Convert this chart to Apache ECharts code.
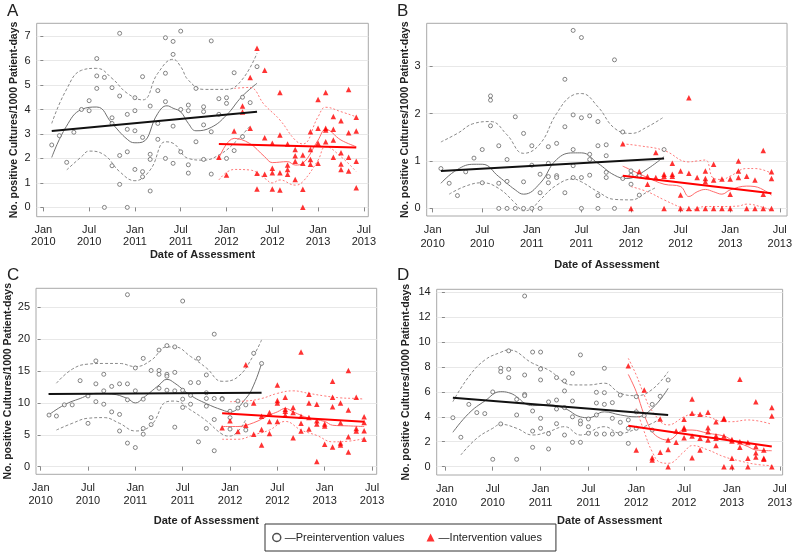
<!DOCTYPE html>
<html><head><meta charset="utf-8">
<script src="https://cdn.jsdelivr.net/npm/echarts@6/dist/echarts.min.js"></script>
<style>html,body{margin:0;padding:0;background:#fff}#c{width:795px;height:554px}</style>
</head><body><div id="c"></div>
<script>
// x values are months since Jan 2010
const xTicks = [0, 6, 12, 18, 24, 30, 36, 42];
const xTickLabels = ['Jan\n2010','Jul\n2010','Jan\n2011','Jul\n2011','Jan\n2012','Jul\n2012','Jan\n2013','Jul\n2013'];
const yTicksA = [0,1,2,3,4,5,6,7];
const yTicksB = [0,1,2,3];
const yTicksC = [0,5,10,15,20,25];
const yTicksD = [0,2,4,6,8,10,12,14];

// ---------- Panel A ----------
const A_pre = [[1.1,2.55],[2.1,2.93],[3.06,1.84],[4,3.07],[5,4.0],[6,4.36],[6,3.95],[7,6.08],[7,5.37],[7,4.86],[8,5.31],[8,0],
[9,4.89],[9,3.66],[9,3.43],[9,1.7],[10,7.11],[10,4.55],[10,2.12],[10,0.94],[11,3.8],[11,3.19],[11,2.27],[11,0],
[12,4.48],[12,3.95],[12,3.13],[12,1.55],[13,5.34],[13,2.86],[13,1.46],[13,1.25],[14,4.14],[14,2.17],[14,1.96],[14,0.67],
[15,4.77],[15,3.43],[15,2.78],[16,6.93],[16,5.48],[16,4.32],[16,2.0],[17,6.78],[17,6.25],[17,3.32],[17,1.8],
[18,7.2],[18,4.0],[18,2.27],[19,4.18],[19,3.95],[19,1.74],[19,1.4],[20,4.86],[20,2.68],[21,4.11],[21,3.91],[21,3.37],[21,1.96],
[22,6.8],[22,3.09],[22,1.36],[23,4.44],[23,3.8],[24,4.48],[24,4.25],[24,2.0],[25,5.5],[25,2.32],[26.1,4.5],[26.1,2.89],[27.1,4.28],[28,5.75]];
const A_int = [[23,2.05],[24,1.32],[25,3.12],[26.1,4.14],[26.1,3.9],[27.1,5.31],[27.1,3.23],[28,6.5],[28,1.39],[28,0.75],
[29,5.6],[29,2.85],[29,1.35],[30,2.62],[30,1.6],[30,1.42],[30,0.75],[31,4.69],[31,2.96],[31,1.42],[31,0.71],
[32,2.59],[32,1.73],[32,1.55],[32,1.35],[33,2.37],[33,2.11],[33,1.89],[33,1.14],[34,2.14],[34,1.8],[34,0.74],[34,0.01],
[35,3.09],[35,2.37],[35,1.96],[35,1.76],[36,4.41],[36,3.23],[36,2.62],[36,1.8],[37,4.69],[37,3.23],[37,3.16],[37,2.68],
[38,3.71],[38,3.19],[38,2.75],[38,2.05],[39,3.54],[39,2.23],[39,1.77],[39,1.55],[40,4.82],[40,3.05],[40,2.05],[40,1.49],
[41,3.68],[41,3.12],[41,1.89],[41,0.8]];
const A_preSmooth = [[1.1,2.04],[3,3.3],[5,4.0],[7,4.1],[9,3.43],[11,2.78],[12,2.64],[13,2.67],[15,3.84],[16.2,4.15],[17,4.05],[18,3.9],[19,3.43],[20,3.13],[22,3.27],[24,3.77],[26,4.52],[28,5.07]];
const A_preUpper = [[1.1,3.43],[3,4.8],[5,5.6],[7,5.68],[9,5.27],[11,4.66],[13,4.39],[15,5.48],[17,6.05],[18,5.75],[19,5.2],[21,4.82],[24,4.82],[26,5.2],[28,6.3]];
const A_preLower = [[3.06,1.53],[5,2.07],[6,2.3],[8,2.14],[10,1.46],[12,1.09],[14,1.53],[16,2.68],[17,2.62],[19,2.0],[21,1.93],[23,2.14],[25,2.62],[27,3.3]];
const A_preFit = [[1.1,3.12],[28,3.91]];
const A_intSmooth = [[23,2.0],[25,2.82],[27,2.62],[29,2.07],[30,1.83],[32,1.87],[33,1.73],[34,1.8],[36,2.75],[37,3.19],[39,2.75],[41,2.48]];
const A_intUpper = [[25,4.86],[27,4.9],[29,4.18],[31,3.57],[33,2.75],[34,2.59],[36,3.7],[37,4.09],[39,3.91],[41,3.7]];
const A_intLower = [[23,1.12],[25,1.55],[27,1.53],[29,1.19],[30,1.0],[31,1.12],[33,0.91],[34,1.05],[36,1.93],[37,2.48],[39,2.07],[41,1.46]];
const A_intFit = [[23,2.59],[41,2.45]];

// ---------- Panel B ----------
const B_pre = [[1,0.84],[2,0.53],[3,0.27],[4,0.77],[5,1.06],[6,1.24],[6,0.54],[7,2.37],[7,2.28],[7,1.74],[8,1.32],[8,0.53],[8,0],
[9,1.03],[9,0.57],[9,0],[10,1.93],[10,0],[11,1.58],[11,0.56],[11,0],[12,1.32],[12,0.91],[12,0],[13,0.72],[13,0.33],[13,0],
[14,1.3],[14,0.95],[14,0.67],[14,0.54],[15,1.37],[15,0.69],[15,0.65],[16,2.72],[16,1.72],[16,0.33],
[17,3.75],[17,1.97],[17,1.24],[17,0.9],[17,0.65],[18,3.6],[18,1.91],[18,0.65],[18,0],[19,1.95],[19,1.14],[19,1.03],[19,0.7],
[20,1.83],[20,1.32],[20,0.27],[20,0],[21,1.34],[21,1.11],[21,0.76],[21,0.65],[22,3.13],[22,0],[23,1.61],[23,0.63],
[24,0.79],[24,0.7],[24,0.51],[25,0.69],[25,0.28],[28,1.24]];
const B_int = [[23,1.36],[24,0],[25,0.78],[26,0.67],[26,0.51],[27,1.18],[27,0.65],[28,0.72],[28,0.68],[28,0],
[29,0.95],[29,0.72],[29,0.68],[30,0.79],[30,0.28],[30,0],[31,2.33],[31,0.74],[31,0],[32,0.65],[32,0],
[33,0.79],[33,0.63],[33,0.56],[33,0],[34,0.93],[34,0.6],[34,0],[35,0.62],[35,0],[36,0.62],[36,0.3],[36,0],
[37,1.0],[37,0.79],[37,0.65],[38,0.68],[38,0],[39,0.6],[39,0],[40,1.22],[40,0.3],[40,0],[41,0.77],[41,0.63],[41,0]];
const B_preSmooth = [[1,0.53],[3,0.82],[5,0.93],[6,0.93],[8,0.67],[10,0.39],[11,0.3],[13,0.53],[15,1.03],[17,1.17],[18,1.17],[20,0.95],[22,0.7],[23.5,0.63],[25,0.72],[28,1.09]];
const B_preUpper = [[1,1.4],[3,1.58],[5,1.79],[7,1.83],[9,1.55],[11,1.16],[13,1.36],[15,2.0],[17,2.39],[18,2.42],[20,2.14],[22,1.69],[24,1.58],[26,1.72],[28,1.93]];
const B_preLower = [[2,0.3],[4,0.47],[6,0.54],[8,0.42],[10,0.11],[11,-0.05],[12,0.0],[13,0.18],[15,0.49],[17,0.62],[18,0.56],[20,0.35],[22,0.19],[24,0.18],[26,0.35],[27,0.44]];
const B_preFit = [[1,0.79],[28,1.05]];
const B_intSmooth = [[23,0.89],[24,0.81],[26,0.65],[28,0.51],[30,0.46],[31,0.25],[32,0.35],[33,0.4],[34,0.35],[35,0.3],[36,0.39],[38,0.47],[39,0.46],[41,0.28]];
const B_intUpper = [[23,1.36],[25,1.32],[28,1.22],[31,0.98],[32,1.0],[33,1.02],[34,0.63],[35,0.61],[36,0.68],[38,0.84],[39,0.84],[41,0.74]];
const B_intLower = [[24,0.46],[26,0.35],[28,0.18],[30,0.02],[31,-0.05],[33,0.04],[35,0.04],[37,0.05],[38,0.09],[40,0.02],[41,-0.04]];
const B_intFit = [[23,0.69],[41,0.32]];

// ---------- Panel C ----------
const C_pre = [[1.06,8.1],[2,7.95],[3,9.7],[4,9.7],[5,13.5],[6,11.1],[6,6.8],[7,16.6],[7,13.0],[7,10.2],[8,14.5],[8,11.9],[8,9.8],
[9,12.6],[9,8.6],[10,13.0],[10,8.2],[10,5.6],[11,27.0],[11,13.0],[11,10.5],[11,3.7],[12,15.5],[12,11.9],[12,3.0],
[13,17.0],[13,10.6],[13,6.0],[13,5.1],[14,15.1],[14,7.7],[14,6.6],[15,18.3],[15,15.1],[15,14.5],[15,12.3],
[16,19.0],[16,14.5],[16,14.2],[16,12.0],[17,18.8],[17,14.8],[17,11.9],[17,6.2],[18,26.0],[18,12.0],[18,10.6],[18,9.3],
[19,13.2],[19,11.2],[19,9.8],[20,17.0],[20,13.2],[20,3.9],[21,14.4],[21,11.6],[21,10.7],[21,9.5],[21,6.0],
[22,20.8],[22,10.7],[22,7.4],[22,2.5],[23,10.7],[23,10.6],[24,8.7],[24,7.7],[24,5.9],[25,10.3],[25,9.2],[26,9.7],[26,5.75],[27,17.8],[28,16.2]];
const C_int = [[23,6.1],[24,7.2],[25,5.5],[26,16.0],[26,6.5],[27,10.0],[27,5.1],[28,7.9],[28,5.85],[28,3.4],
[29,8.5],[29,7.1],[29,5.2],[30,12.8],[30,10.4],[30,10.0],[30,7.1],[31,10.9],[31,9.0],[31,8.7],[31,8.1],
[32,9.3],[32,8.5],[32,4.55],[33,18.0],[33,7.9],[33,6.8],[33,5.6],[34,11.35],[34,10.0],[34,7.7],[34,5.9],
[35,9.8],[35,7.2],[35,6.7],[35,0.8],[36,6.7],[36,6.4],[36,3.5],[37,13.4],[37,10.9],[37,9.4],[37,3.1],
[38,10.0],[38,6.9],[38,3.7],[38,3.4],[39,15.1],[39,8.9],[39,4.7],[39,2.3],[40,10.9],[40,6.0],[40,5.6],
[41,7.85],[41,6.95],[41,5.65],[41,4.3]];
const C_preSmooth = [[1,8.1],[3,9.7],[5,10.7],[7,11.5],[9,11.4],[11,10.7],[12,10.0],[13,10.8],[15,12.8],[16,13.7],[17,13.1],[19,11.2],[21,9.9],[23,8.9],[24,8.6],[26,10.7],[27,12.8],[28,16.2]];
const C_preUpper = [[2,13.1],[4,15.3],[6,16.1],[8,16.2],[10,16.2],[12,15.7],[14,16.7],[16,18.8],[17,18.8],[19,17.3],[21,15.5],[23,13.4],[25,14.1],[27,17.5],[28,19.9]];
const C_preLower = [[2,5.75],[4,6.8],[6,7.6],[8,7.7],[10,6.8],[12,5.6],[14,6.5],[16,10.2],[17,10.3],[19,8.9],[21,7.2],[23,5.1],[24,4.8],[26,7.4]];
const C_preFit = [[1,11.4],[28,11.6]];
const C_intSmooth = [[23,6.3],[25,6.3],[27,6.9],[29,8.1],[30,8.6],[31,9.15],[32,8.6],[34,7.6],[36,7.1],[37,6.5],[39,6.4],[41,6.3]];
const C_intUpper = [[24,10.2],[26,10.3],[28,10.7],[30,11.5],[32,11.9],[34,11.5],[36,11.1],[38,10.8],[40,10.7],[41,10.6]];
const C_intLower = [[23,4.3],[25,4.3],[27,5.0],[29,5.75],[31,7.1],[33,5.75],[35,4.9],[37,3.9],[39,4.0],[41,4.4]];
const C_intFit = [[23,8.4],[41,7.05]];

// ---------- Panel D ----------
const D_pre = [[1,3.93],[2,2.36],[3,5.0],[4,4.34],[5,4.26],[6,6.0],[6,0.59],[7,7.9],[7,7.63],[7,3.43],[8,9.3],[8,7.82],[8,7.15],
[9,5.4],[9,4.15],[9,0.59],[10,13.7],[10,7.36],[10,5.8],[10,5.7],[11,9.2],[11,4.47],[11,2.86],[11,1.55],
[12,9.2],[12,7.84],[12,6.96],[12,3.88],[12,3.08],[13,5.2],[13,2.65],[13,1.42],[14,7.15],[14,5.35],[14,4.63],[14,3.45],
[15,6.88],[15,6.08],[15,4.74],[15,2.54],[16,7.5],[16,5.27],[16,4.0],[16,1.95],[17,8.97],[17,3.67],[17,3.43],[17,1.95],
[18,3.83],[18,3.21],[18,2.68],[19,5.97],[19,5.11],[19,4.15],[19,2.62],[20,7.9],[20,5.94],[20,5.0],[20,2.62],
[21,5.14],[21,3.88],[21,2.62],[22,5.75],[22,3.56],[22,2.65],[23,3.75],[23,3.08],[23,1.87],[24,5.62],[24,4.4],[24,3.08],
[25,4.1],[26,5.0],[26,2.94],[27,5.65],[28,6.96]];
const D_int = [[23,8.1],[24,1.34],[25,6.16],[26,0.72],[26,0.53],[27,3.83],[27,1.15],[28,2.14],[28,1.37],[28,0],
[29,2.86],[29,1.95],[30,3.8],[30,3.13],[30,3.0],[30,2.33],[31,5.43],[31,4.28],[31,2.46],[31,0.72],
[32,4.2],[32,2.28],[32,1.34],[33,4.36],[33,3.13],[33,2.81],[33,2.14],[34,3.61],[34,2.49],[34,2.28],[34,1.69],
[35,3.88],[35,3.8],[35,2.46],[35,0],[36,2.19],[36,2.06],[36,0.67],[36,0],[37,7.01],[37,2.0],[37,1.55],
[38,1.93],[38,0.67],[38,0],[39,5.22],[39,1.61],[39,1.12],[39,0.78],[40,1.34],[40,0.67],[40,0.59],[41,4.74],[41,4.07],[41,0]];
const D_preSmooth = [[1,2.76],[3,4.28],[5,5.27],[7,6.02],[8,5.94],[9,5.62],[10,5.09],[11,4.9],[13,4.95],[15,4.68],[17,4.0],[18,3.93],[20,4.4],[22,4.15],[24,4.0],[26,4.68],[28,6.29]];
const D_preUpper = [[1,5.22],[3,7.23],[5,8.56],[7,9.18],[8,9.37],[11,8.3],[13,7.76],[16,6.56],[18,6.56],[20,6.7],[22,5.89],[24,5.7],[26,6.2],[28,7.63]];
const D_preLower = [[2,0.94],[4,2.28],[6,3.08],[7,3.4],[9,3.08],[11,2.54],[13,2.81],[15,3.21],[17,2.54],[20,3.21],[22,2.68],[24,3.02],[26,3.48],[27,3.88]];
const D_preFit = [[1,5.54],[28,4.15]];
const D_intSmooth = [[23,7.41],[24,6.02],[25,4.15],[26,2.81],[27,2.28],[28,2.14],[30,2.94],[31,2.94],[33,2.68],[35,2.46],[36,2.14],[38,1.61],[39,1.34],[41,1.28]];
const D_intUpper = [[23,8.7],[24,7.36],[25,5.75],[26,4.47],[28,3.35],[30,4.0],[31,4.2],[33,4.0],[35,3.61],[36,3.61],[38,3.75],[41,3.4]];
const D_intLower = [[24,4.68],[25,2.81],[26,1.2],[27,0.35],[28,0.27],[30,1.2],[31,1.69],[33,1.34],[35,0.8],[37,0.46],[39,0.19],[41,0.08]];
const D_intFit = [[23,3.29],[41,1.61]];

const PRE = 'Preintervention values';
const INT = 'Intervention values';
const FONT = 'Liberation Sans';

const panels = [
  {letter:'A', grid:{left:36.7, top:23.3, width:331.6, height:193.4}, xmin:-0.87, xmax:42.58, ymin:-0.38, ymax:7.52, yt:yTicksA, nameGapY:17, nameGapX:33, lh:12,
   d:[A_pre,A_int,A_preSmooth,A_preUpper,A_preLower,A_preFit,A_intSmooth,A_intUpper,A_intLower,A_intFit], lx:7, ly:3},
  {letter:'B', grid:{left:426.7, top:23.3, width:363.3, height:192.7}, xmin:-0.72, xmax:42.88, ymin:-0.16, ymax:3.9, yt:yTicksB, nameGapY:15, nameGapX:43, lh:14,
   d:[B_pre,B_int,B_preSmooth,B_preUpper,B_preLower,B_preFit,B_intSmooth,B_intUpper,B_intLower,B_intFit], lx:397, ly:3},
  {letter:'C', grid:{left:36, top:288.3, width:340.7, height:186}, xmin:-0.59, xmax:42.59, ymin:-1.2, ymax:28, yt:yTicksC, nameGapY:22, nameGapX:41, lh:13,
   d:[C_pre,C_int,C_preSmooth,C_preUpper,C_preLower,C_preFit,C_intSmooth,C_intUpper,C_intLower,C_intFit], lx:7, ly:267},
  {letter:'D', grid:{left:436.7, top:289.3, width:350, height:185.7}, xmin:-1.03, xmax:42.36, ymin:-0.67, ymax:14.24, yt:yTicksD, nameGapY:25, nameGapX:40, lh:14,
   d:[D_pre,D_int,D_preSmooth,D_preUpper,D_preLower,D_preFit,D_intSmooth,D_intUpper,D_intLower,D_intFit], lx:397, ly:267}
];

const grids = [], xAxes = [], yAxes = [], series = [], graphics = [];
panels.forEach((p, i) => {
  grids.push(Object.assign({show:true, borderColor:'#a8a8a8', borderWidth:1, backgroundColor:'#fff', containLabel:false}, p.grid));
  xAxes.push({
    type:'value', gridIndex:i, min:p.xmin, max:p.xmax,
    name:'Date of Assessment', nameLocation:'middle', nameGap:p.nameGapX,
    nameTextStyle:{fontFamily:FONT, fontWeight:'bold', fontSize:11, color:'#222'},
    axisLine:{show:false},
    axisTick:{show:true, customValues:xTicks, length:4, lineStyle:{color:'#888'}},
    axisLabel:{customValues:xTicks, fontFamily:FONT, fontSize:11, color:'#222', lineHeight:p.lh, margin:7,
      formatter:(v)=>{const k = xTicks.indexOf(Math.round(v)); return k>=0 ? xTickLabels[k] : '';}},
    splitLine:{show:false}
  });
  yAxes.push({
    type:'value', gridIndex:i, min:p.ymin, max:p.ymax,
    name:'No. positive Cultures/1000 Patient-days', nameLocation:'middle', nameGap:p.nameGapY, nameRotate:90,
    nameTextStyle:{fontFamily:FONT, fontWeight:'bold', fontSize:10.5, color:'#222'},
    axisLine:{show:false},
    axisTick:{show:true, customValues:p.yt, length:3, lineStyle:{color:'#888'}},
    axisLabel:{customValues:p.yt, fontFamily:FONT, fontSize:11, color:'#222', margin:6},
    splitLine:{show:true, lineStyle:{color:'#e8e8e8', width:1}}
  });
  const [pre, intv, ps, pu, pl, pf, is, iu, il, ifit] = p.d;
  const line = (data, color, width, type, smooth, z) => ({
    type:'line', xAxisIndex:i, yAxisIndex:i, data, symbol:'none', smooth, z,
    lineStyle:{color, width, type}, silent:true
  });
  series.push(line(ps, '#707070', 1, 'solid', 0.45, 3));
  series.push(line(pu, '#8a8a8a', 1, [3,2], 0.45, 3));
  series.push(line(pl, '#8a8a8a', 1, [3,2], 0.45, 3));
  series.push(line(is, '#ff6a6a', 1, 'solid', 0.4, 3));
  series.push(line(iu, '#ff7a7a', 1, [2,2], 0.45, 3));
  series.push(line(il, '#ff7a7a', 1, [2,2], 0.45, 3));
  series.push({name:PRE, type:'scatter', xAxisIndex:i, yAxisIndex:i, data:pre, symbol:'circle', symbolSize:4, z:4,
    itemStyle:{color:'#ffffff', borderColor:'#666666', borderWidth:1}});
  series.push({name:INT, type:'scatter', xAxisIndex:i, yAxisIndex:i, data:intv, symbol:'triangle', symbolSize:5.5, z:4,
    itemStyle:{color:'#ff0000'}});
  series.push(line(pf, '#111111', 2, 'solid', false, 5));
  series.push(line(ifit, '#ff0000', 2, 'solid', false, 5));
  graphics.push({type:'text', left:p.lx, top:p.ly, style:{text:p.letter, font:'17px "Liberation Sans"', fill:'#222'}});
});

const chart = echarts.init(document.getElementById('c'), null, {renderer:'canvas'});
chart.setOption({
  animation:false,
  backgroundColor:'#fff',
  grid:grids, xAxis:xAxes, yAxis:yAxes, series, graphic:graphics,
  legend:{
    left:265, top:524, orient:'horizontal',
    data:[{name:PRE, icon:'circle', itemStyle:{color:'#ffffff', borderColor:'#222222', borderWidth:1.5}},
          {name:INT, icon:'triangle', itemStyle:{color:'#ff0000', borderWidth:0}}],
    itemWidth:8, itemHeight:8, itemGap:22,
    formatter:(n)=>'\u2014' + n,
    textStyle:{fontFamily:FONT, fontSize:11, color:'#222', padding:[0,0,0,-1]},
    borderColor:'#333', borderWidth:1, padding:[8,14,8,7], selectedMode:false
  }
});
</script></body></html>
